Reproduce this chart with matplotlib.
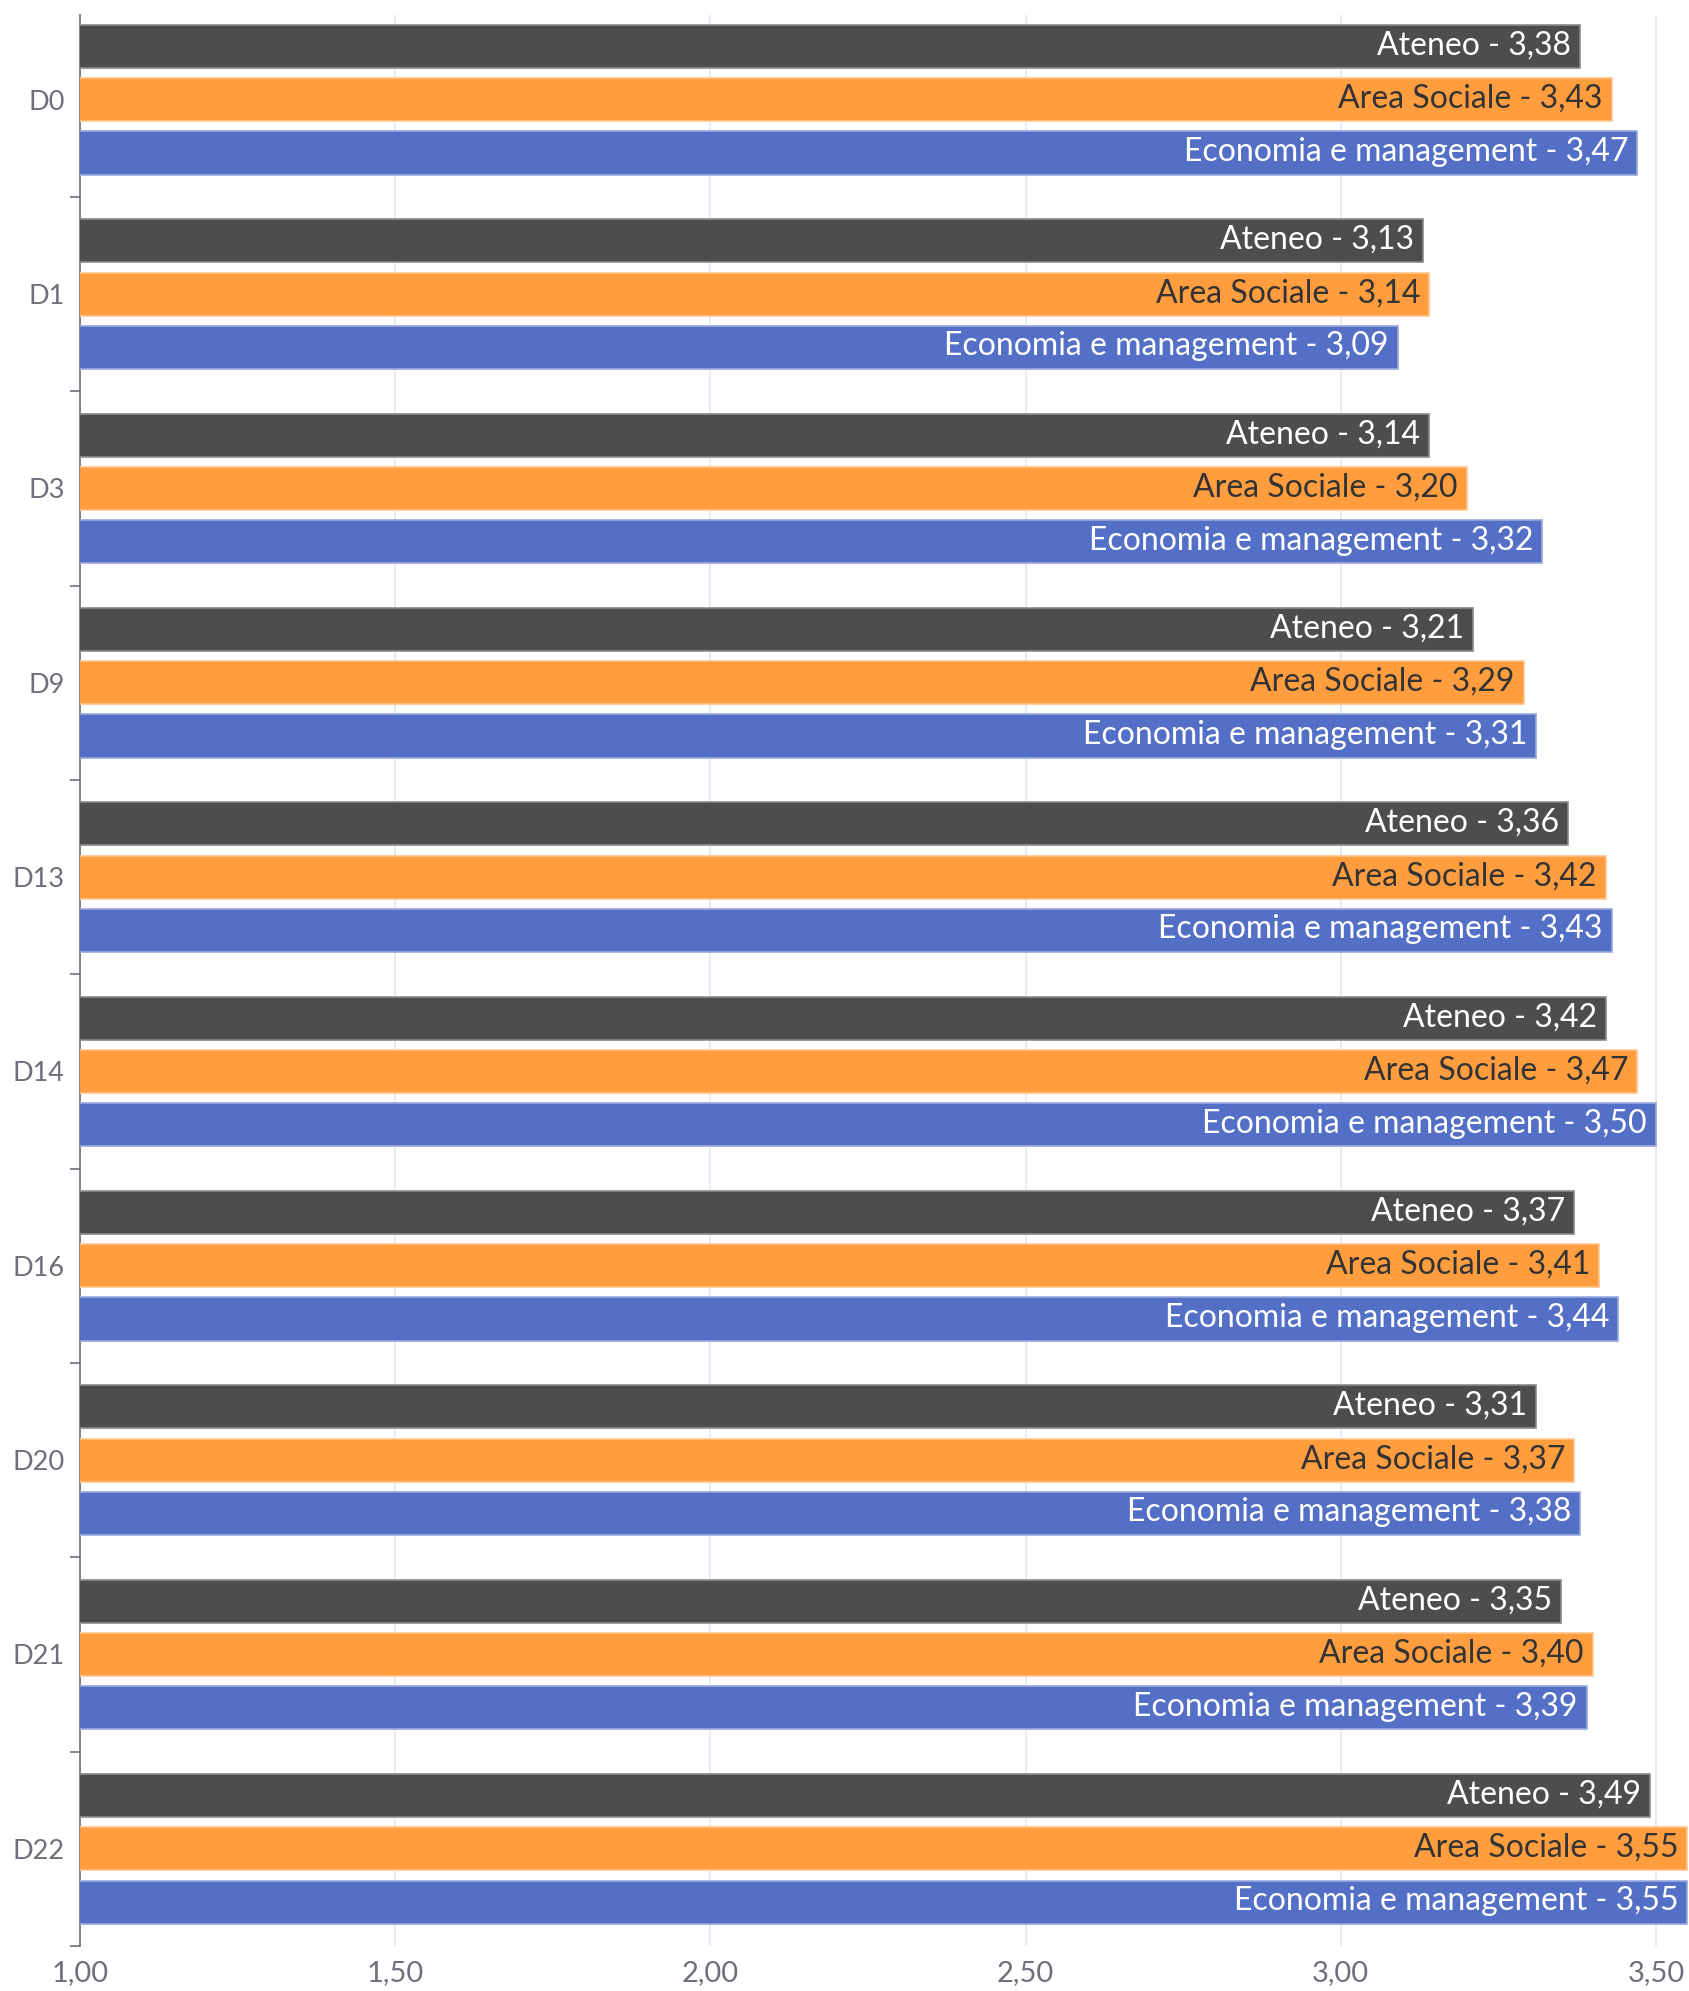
import numpy as np
import matplotlib
matplotlib.use('Agg')
import matplotlib.pyplot as plt
from matplotlib.ticker import FuncFormatter, FixedLocator

categories = ['D0', 'D1', 'D3', 'D9', 'D13', 'D14', 'D16', 'D20', 'D21', 'D22']
series_names = ['Ateneo', 'Area Sociale', 'Economia e management']
ateneo = [3.38, 3.13, 3.14, 3.21, 3.36, 3.42, 3.37, 3.31, 3.35, 3.49]
area_sociale = [3.43, 3.14, 3.20, 3.29, 3.42, 3.47, 3.41, 3.37, 3.40, 3.55]
economia = [3.47, 3.09, 3.32, 3.31, 3.43, 3.50, 3.44, 3.38, 3.39, 3.55]
x_ticks = [1.0, 1.5, 2.0, 2.5, 3.0, 3.5]

colors = ['#4d4d4d', '#ff9d3f', '#5470c6']
edge_colors = ['#8a8a8a', '#ffc58c', '#98a9dd']
text_colors = ['#ffffff', '#333333', '#ffffff']
offsets = [-0.274, 0.0, 0.274]
bar_h = 0.222

plt.rcParams['font.family'] = ['Lato', 'DejaVu Sans']

fig = plt.figure(figsize=(16.9, 19.91), dpi=100)
ax = fig.add_axes([80 / 1690, 45 / 1991, 1610 / 1690, (1976 - 45) / 1991])

y = np.arange(len(categories))
for values, name, col, ec, tc, off in zip([ateneo, area_sociale, economia], series_names,
                                            colors, edge_colors, text_colors, offsets):
    ax.barh(y + off, values, height=bar_h, color=col, edgecolor=ec, linewidth=1.2, zorder=3)
    for yy, v in zip(y + off, values):
        ax.annotate(f'{name} - {v:.2f}'.replace('.', ','), xy=(v, yy), xytext=(-9, 1),
                    textcoords='offset pixels', ha='right', va='center',
                    fontsize=23, color=tc, zorder=4)

ax.set_xlim(1, 3.554)
ax.set_ylim(9.487, -0.436)

ax.xaxis.set_major_locator(FixedLocator(x_ticks))
ax.xaxis.set_major_formatter(FuncFormatter(lambda v, p: f'{v:.2f}'.replace('.', ',')))
ax.grid(axis='x', color='#e0e6f1', linewidth=1.2, zorder=0)
ax.tick_params(axis='x', length=0, labelsize=21, labelcolor='#6e7079', pad=10)

ax.set_yticks(y)
ax.set_yticklabels(categories)
ax.set_yticks(np.arange(len(categories)) + 0.5, minor=True)
ax.tick_params(axis='y', which='major', length=0, labelsize=19.5, labelcolor='#6e7079', pad=11)
ax.tick_params(axis='y', which='minor', length=7, width=1.2, color='#6e7079')

for s in ['top', 'right', 'bottom']:
    ax.spines[s].set_visible(False)
ax.spines['left'].set_color('#6e7079')
ax.spines['left'].set_linewidth(1.2)

fig.savefig('out.png', dpi=100)
